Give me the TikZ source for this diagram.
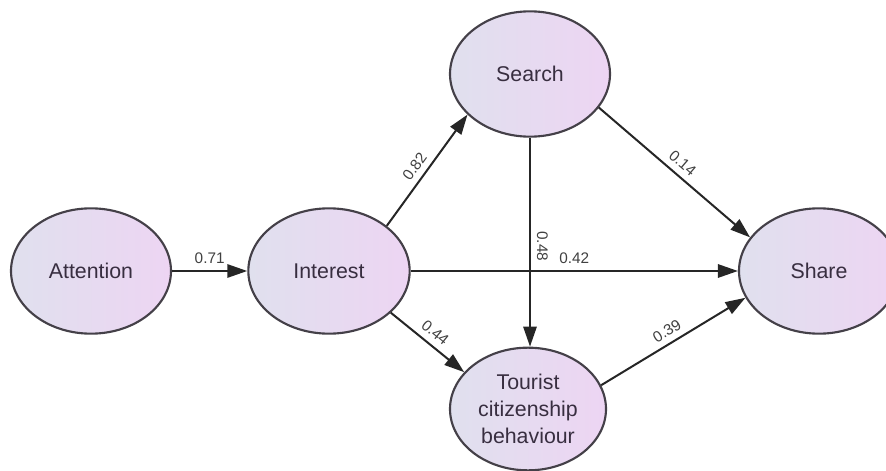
\documentclass[tikz,border=0pt]{standalone}
\usepackage{fontspec}
\setmainfont{Liberation Sans}
\usetikzlibrary{arrows.meta,shapes.geometric}
\definecolor{latleft}{RGB}{224,224,238}
\definecolor{latright}{RGB}{237,213,243}
\definecolor{latline}{RGB}{68,64,72}
\definecolor{lattext}{RGB}{56,46,64}

\begin{document}
\begin{tikzpicture}[x=0.75pt, y=-0.75pt,
    latent/.style={ellipse, draw=latline, line width=1.6pt, left color=latleft, right color=latright, minimum width=120pt, minimum height=94pt, inner sep=0pt, align=center, text=lattext, font=\fontsize{16}{20}\selectfont},
    effect/.style={-{Triangle[length=15pt,width=10pt]}, line width=1.5pt, black!85},
    coef/.style={font=\fontsize{11.5}{13}\selectfont, text=black!75, inner sep=4.5pt, above, sloped},
]
\useasboundingbox (0,0) rectangle (886,471);

\node[latent] (att) at (91,271) {Attention};
\node[latent, minimum width=121pt] (int) at (329,271) {Interest};
\node[latent] (sea) at (530,74) {Search};
\node[latent] (sha) at (819,271) {Share};
\node[latent, minimum width=117pt, minimum height=92pt] (tcb) at (528,409) {Tourist\\citizenship\\behaviour};

\draw[effect] (att) -- node[coef] {0.71} (int);
\draw[effect] (int.38) -- node[coef, pos=0.47] {0.82} (sea.213);
\draw[effect] (sea.-26) -- node[coef] {0.14} (sha.154);
\draw[effect] (sea.south) -- node[coef, pos=0.52] {0.48} (sea.south |- tcb.north);
\draw[effect] (int) -- node[coef, pos=0.5] {0.42} (sha);
\draw[effect] (int.-34) -- node[coef] {0.44} (tcb.150);
\draw[effect] (tcb.18) -- node[coef, pos=0.5] {0.39} (sha.200);
\end{tikzpicture}
\end{document}
